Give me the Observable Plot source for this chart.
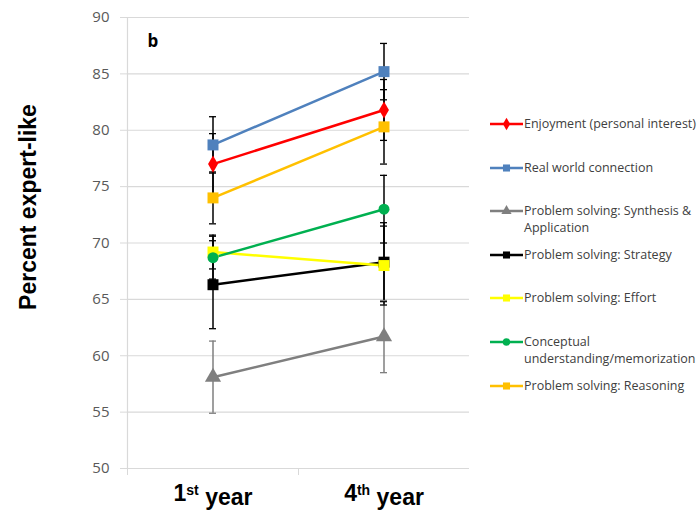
<!DOCTYPE html>
<html>
<head>
<meta charset="utf-8">
<script src="https://cdn.jsdelivr.net/npm/d3@7"></script>
<script src="https://cdn.jsdelivr.net/npm/@observablehq/plot@0.6"></script>
<style>
  html, body { margin: 0; padding: 0; background: #fff; }
  #wrap { position: relative; width: 699px; height: 512px; overflow: hidden; }
  #legend { position: absolute; left: 0; top: 0; font-family: "Open Sans", sans-serif; font-size: 12.5px; color: #404040; }
  .item { position: absolute; display: flex; align-items: flex-start; }
  .item svg { flex: none; }
  .item span { line-height: 16.8px; white-space: pre; }
</style>
</head>
<body>
<div id="wrap"><div id="legend"></div></div>
<script>
const categories = ["1st year", "4th year"];
const series = [
  "Enjoyment (personal interest)",
  "Real world connection",
  "Problem solving: Synthesis &\nApplication",
  "Problem solving: Strategy",
  "Problem solving: Effort",
  "Conceptual\nunderstanding/memorization",
  "Problem solving: Reasoning"
];
const colors = ["#FF0000", "#4F81BD", "#7F7F7F", "#000000", "#FFFF00", "#00B050", "#FFC000"];
const symbols = ["diamond", "square", "triangle", "square", "square", "circle", "square"];
const firstYear = [77.0, 78.7, 58.1, 66.3, 69.2, 68.7, 74.0];
const fourthYear = [81.8, 85.2, 61.7, 68.3, 68.0, 73.0, 80.3];
const firstYearErr = [2.7, 2.5, 3.2, 3.9, 1.5, 1.9, 2.3];
const fourthYearErr = [2.7, 2.5, 3.2, 3.5, 3.5, 3.0, 3.3];
const yTicks = [50, 55, 60, 65, 70, 75, 80, 85, 90];

const rows = [];
series.forEach((s, i) => {
  rows.push({series: s, i, year: categories[0], value: firstYear[i], err: firstYearErr[i]});
  rows.push({series: s, i, year: categories[1], value: fourthYear[i], err: fourthYearErr[i]});
});
const errColor = i => (i === 2 ? "#7F7F7F" : "#000000");
const symSize = {diamond: 5.2, square: 6.2, triangle: 6, circle: 5.5};

const W = 699, H = 512, mL = 127, mR = 230, mT = 17, mB = 44;
const bw = (W - mL - mR) / categories.length;

const marks = [
  Plot.gridY(yTicks, {stroke: "#d9d9d9", strokeOpacity: 1, strokeWidth: 1.2}),
  Plot.axisY({ticks: yTicks, tickSize: 7, tickPadding: 11, stroke: "#d9d9d9", strokeOpacity: 1, fontSize: 15, fill: "#595959", fontFamily: "Open Sans", label: null}),
  Plot.frame({anchor: "left", stroke: "#d9d9d9", strokeWidth: 1.2}),
  Plot.axisX({tickSize: 7, dx: -bw / 2, stroke: "#d9d9d9", strokeOpacity: 1, text: null, label: null}),
  Plot.axisX({tickSize: 0, tickPadding: 16, fontSize: 23, fontWeight: "bold", fontFamily: "Liberation Sans", fill: "#000", label: null}),
  Plot.ruleX(rows, {x: "year", y1: d => d.value - d.err, y2: d => d.value + d.err, stroke: d => errColor(d.i), strokeWidth: 1.5}),
  Plot.tickY(rows, {x: "year", y: d => d.value - d.err, stroke: d => errColor(d.i), strokeWidth: 1.3, inset: bw / 2 - 3.5}),
  Plot.tickY(rows, {x: "year", y: d => d.value + d.err, stroke: d => errColor(d.i), strokeWidth: 1.3, inset: bw / 2 - 3.5}),
  Plot.line(rows, {x: "year", y: "value", z: "series", stroke: d => colors[d.i], strokeWidth: 2.5}),
];
series.forEach((s, i) => {
  marks.push(Plot.dot(rows.filter(d => d.i === i), {x: "year", y: "value", symbol: symbols[i], r: symSize[symbols[i]], fill: colors[i], stroke: "none"}));
});

const svgEl = Plot.plot({
  width: W, height: H,
  marginLeft: mL, marginRight: mR, marginTop: mT, marginBottom: mB,
  x: {type: "band", domain: categories, padding: 0},
  y: {domain: [50, 90]},
  style: {background: "#fff", overflow: "visible"},
  marks
});
document.getElementById("wrap").prepend(svgEl);

const svg = d3.select(svgEl);
// superscripts on x tick labels
svg.selectAll('[aria-label="x-axis tick label"] text').each(function() {
  const t = d3.select(this);
  const label = t.text();
  const m = label.match(/^(\d)(st|nd|rd|th) (.*)$/);
  if (!m) return;
  t.text(null);
  t.append("tspan").text(m[1]);
  t.append("tspan").attr("font-size", 14).attr("dy", "-0.42em").text(m[2]);
  t.append("tspan").attr("dy", "0.42em").text(" " + m[3]);
});
// y axis title
svg.append("text")
  .attr("transform", "translate(36,207) rotate(-90)")
  .attr("text-anchor", "middle")
  .attr("font-family", "Liberation Sans")
  .attr("font-weight", "bold")
  .attr("font-size", 23)
  .attr("fill", "#000")
  .text("Percent expert-like");
// panel letter
svg.append("text")
  .attr("x", 153).attr("y", 47)
  .attr("font-family", "Open Sans")
  .attr("font-weight", "bold")
  .attr("font-size", 17)
  .attr("fill", "#000")
  .text("b");

// legend
const legend = d3.select("#legend");
series.forEach((s, i) => {
  const item = legend.append("div").attr("class", "item")
    .style("left", "489px").style("top", (116 + i * 43.6) + "px");
  const sw = item.append("svg").attr("width", 35).attr("height", 16);
  sw.append("line").attr("x1", 1).attr("x2", 34).attr("y1", 8).attr("y2", 8)
    .attr("stroke", colors[i]).attr("stroke-width", 2.5);
  const typ = {diamond: d3.symbolDiamond, square: d3.symbolSquare, triangle: d3.symbolTriangle, circle: d3.symbolCircle}[symbols[i]];
  sw.append("path").attr("d", d3.symbol(typ, symbols[i] === "square" ? 50 : 45)())
    .attr("transform", "translate(17.5,8)").attr("fill", colors[i]);
  item.append("span").text(s);
});
</script>
</body>
</html>
